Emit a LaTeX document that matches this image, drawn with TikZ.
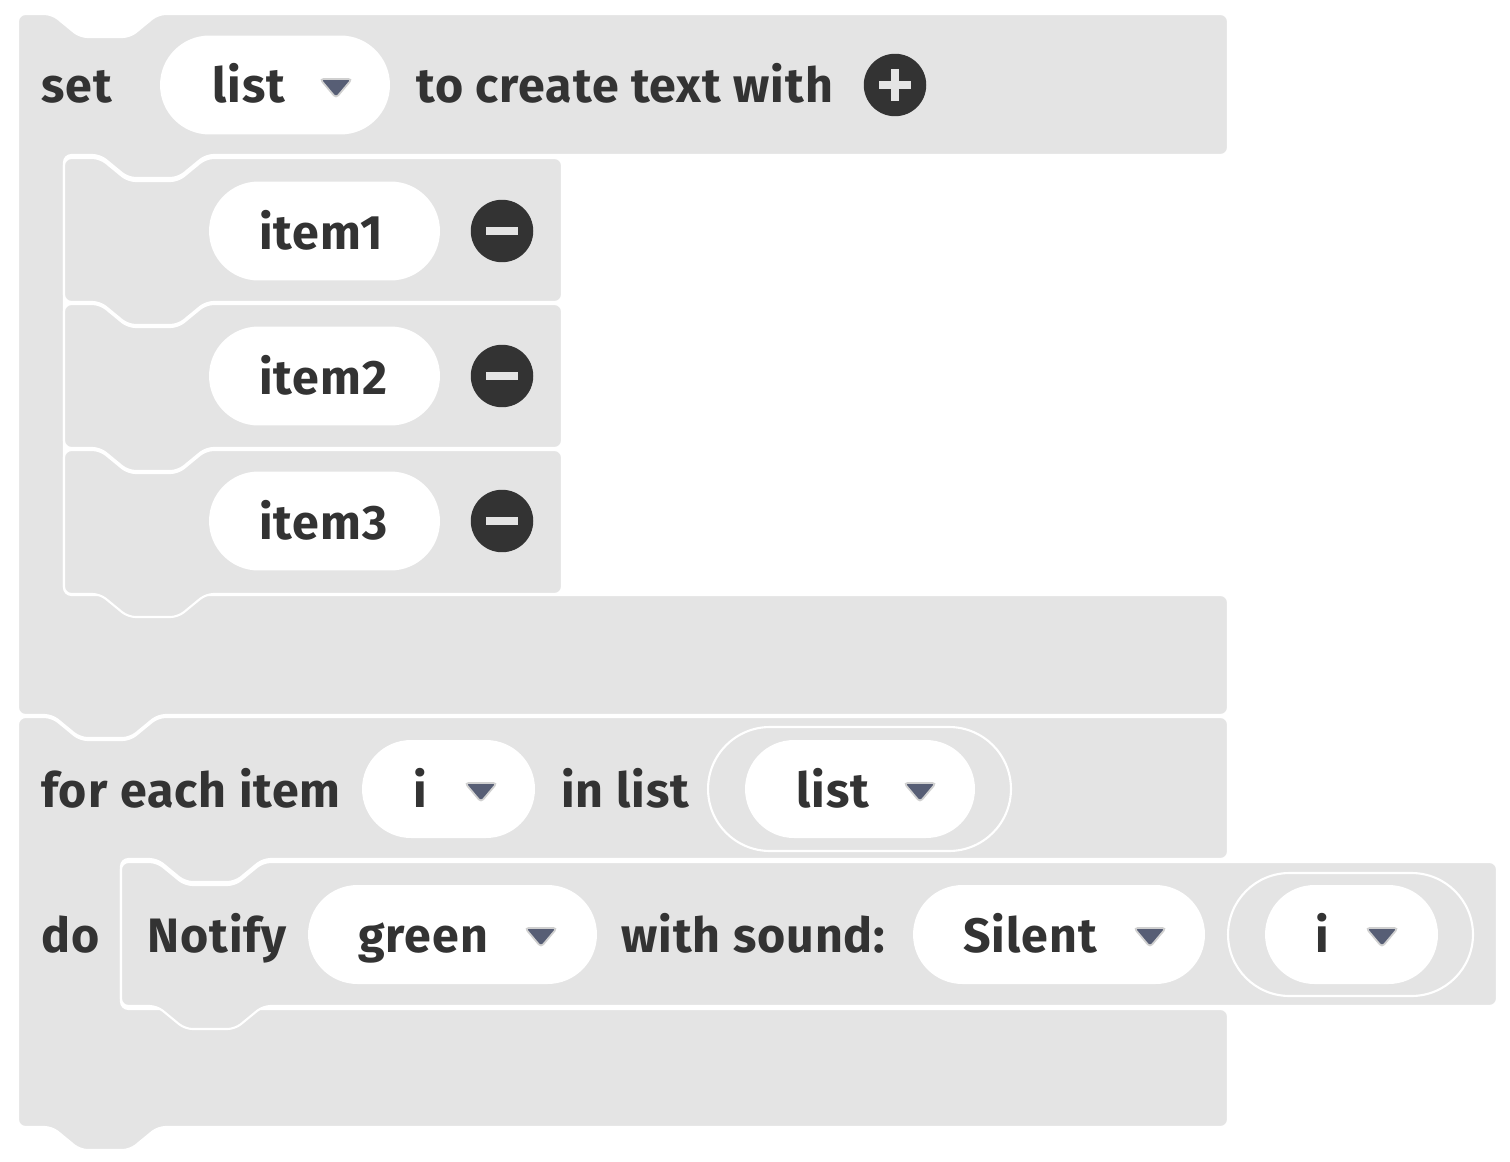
\documentclass[tikz,border=0pt]{standalone}
\usepackage{fontspec}
\setmainfont{Fira Sans}[LetterSpace=2]
\usepackage{tikz}
\usepackage{xcolor}
\usetikzlibrary{shapes.misc}

\definecolor{blockgrey}{HTML}{E4E4E4}
\definecolor{ink}{HTML}{333333}
\definecolor{dropgrey}{HTML}{575E75}

\begin{document}
\begin{tikzpicture}[x=0.02cm,y=-0.02cm]%
  \tikzstyle{block}=[fill=blockgrey,draw=white,line width=1.2pt,rounded corners=0.15cm]
  \tikzstyle{lbl}=[anchor=base west,inner sep=0,text=ink,font=\bfseries\fontsize{27.5}{32}\selectfont]
  \tikzstyle{pill}=[rounded rectangle,fill=white,inner sep=0,minimum height=1.98cm]
  \tikzstyle{slot}=[rounded rectangle,draw=white,line width=1.2pt,inner sep=0]
  \tikzstyle{btn}=[circle,fill=ink,inner sep=0,minimum size=1.25cm]
  \tikzstyle{droptip}=[fill=dropgrey,draw=blockgrey!80!gray,line width=1pt,rounded corners=2pt]
  \useasboundingbox (0,0) rectangle (1510,1162);

  % set ... to create text with
  \draw[block] (18,14) -- (52,14) -- (80,37) -- (130,37) -- (158,14) -- (1228,14)
    -- (1228,155) -- (206,155) -- (178,178) -- (128,178) -- (100,155) -- (64,155)
    -- (64,595) -- (1228,595) -- (1228,715) -- (158,715) -- (130,738) -- (80,738)
    -- (52,715) -- (18,715) -- cycle;
  \node(set)[lbl] at (41,103) {set};
  \node(listf)[pill,minimum width=4.6cm] at (275,85) {};
  \node(listname)[lbl] at (212,103) {list};
  \node(createtext)[lbl] at (416,103) {to create text with};
  \node(plus)[btn] at (895,85) {};
  \draw[blockgrey,line width=4.4pt] (879,85) -- (911,85) (895,69) -- (895,101);

  % text items
  \draw[block] (64,158) -- (100,158) -- (128,181) -- (178,181) -- (206,158) -- (562,158)
    -- (562,302) -- (206,302) -- (178,325) -- (128,325) -- (100,302) -- (64,302) -- cycle;
  \draw[block] (64,304) -- (100,304) -- (128,327) -- (178,327) -- (206,304) -- (562,304)
    -- (562,448) -- (206,448) -- (178,471) -- (128,471) -- (100,448) -- (64,448) -- cycle;
  \draw[block] (64,450) -- (100,450) -- (128,473) -- (178,473) -- (206,450) -- (562,450)
    -- (562,594) -- (206,594) -- (178,617) -- (128,617) -- (100,594) -- (64,594) -- cycle;
  \node(p1)[pill,minimum width=4.62cm] at (324.5,231) {};
  \node(p2)[pill,minimum width=4.62cm] at (324.5,376) {};
  \node(p3)[pill,minimum width=4.62cm] at (324.5,521) {};
  \node(item1)[lbl] at (259,249) {item1};
  \node(item2)[lbl] at (259,394) {item2};
  \node(item3)[lbl] at (259,539) {item3};
  \node(minus1)[btn] at (502,231) {};
  \node(minus2)[btn] at (502,376) {};
  \node(minus3)[btn] at (502,521) {};
  \draw[blockgrey,line width=4.2pt] (486,231) -- (518,231) (486,376) -- (518,376) (486,521) -- (518,521);

  % for each item ... do
  \draw[block] (18,717) -- (52,717) -- (80,740) -- (130,740) -- (158,717) -- (1228,717)
    -- (1228,859) -- (263,859) -- (235,882) -- (185,882) -- (157,859) -- (121,859)
    -- (121,1009) -- (1228,1009) -- (1228,1127) -- (158,1127) -- (130,1150) -- (80,1150)
    -- (52,1127) -- (18,1127) -- cycle;
  \node(foreach)[lbl] at (41,807) {for each item};
  \node(ivarf)[pill,minimum width=3.46cm,minimum height=1.96cm] at (448.5,789) {};
  \node(ivar)[lbl] at (413,807) {i};
  \node(inlist)[lbl] at (561,807) {in list};
  \node(ring1)[slot,minimum width=6.06cm,minimum height=2.48cm] at (859.5,789) {};
  \node(listvf)[pill,minimum width=4.6cm,minimum height=1.96cm] at (860,789) {};
  \node(listvar)[lbl] at (796,807) {list};
  \node(do)[lbl] at (41,952) {do};

  % Notify block
  \draw[block] (121,862) -- (157,862) -- (185,885) -- (235,885) -- (263,862) -- (1497,862)
    -- (1497,1006) -- (263,1006) -- (235,1029) -- (185,1029) -- (157,1006) -- (121,1006) -- cycle;
  \node(notify)[lbl] at (147,952) {Notify};
  \node(greenf)[pill,minimum width=5.78cm] at (452.5,934.5) {};
  \node(green)[lbl] at (358,952) {green};
  \node(withsound)[lbl] at (621,952) {with sound:};
  \node(silentf)[pill,minimum width=5.84cm] at (1059,934.5) {};
  \node(silent)[lbl] at (963,952) {Silent};
  \node(ring2)[slot,minimum width=4.9cm,minimum height=2.46cm] at (1350.5,934.5) {};
  \node(ivar2f)[pill,minimum width=3.46cm] at (1351.5,934.5) {};
  \node(ivar2)[lbl] at (1315,952) {i};

  % dropdown arrows
  \foreach \cx/\cy in {336/88,481/792,920/792,541/937,1150/937,1382/937}
    \draw[droptip] ({\cx-16},{\cy-9}) -- ({\cx+16},{\cy-9}) -- (\cx,{\cy+10}) -- cycle;
\end{tikzpicture}
\end{document}
